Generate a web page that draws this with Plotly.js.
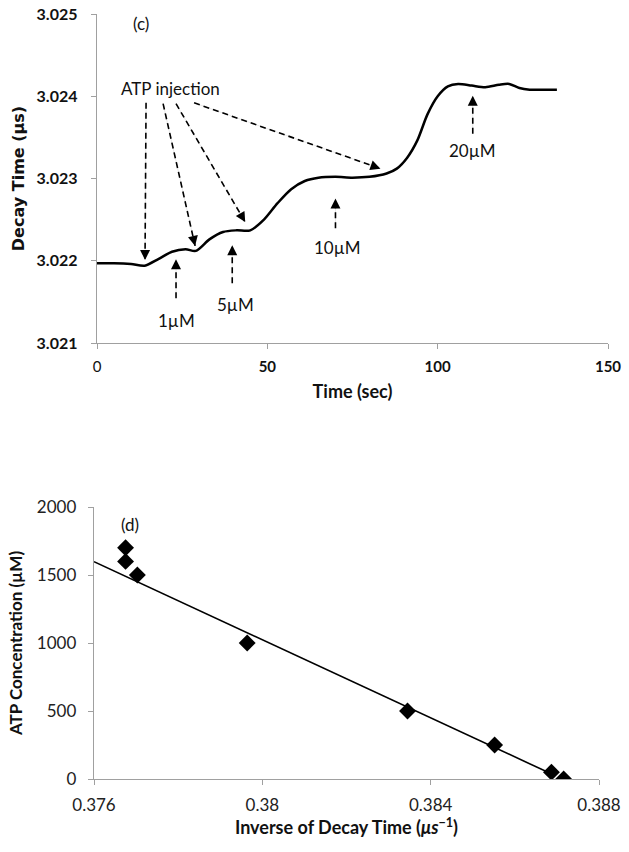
<!DOCTYPE html>
<html>
<head>
<meta charset="utf-8">
<script src="https://cdn.plot.ly/plotly-3.0.1.min.js"></script>
<style>html,body{margin:0;padding:0;background:#fff;}#chart{width:629px;height:852px;}</style>
</head>
<body>
<div id="chart"></div>
<script>
// ---- Panel (c): decay time vs time ----
var timeSec = [0, 5, 10, 14, 18, 22, 26, 29, 33, 37, 41, 45, 49, 53, 57, 61, 65, 70, 75, 80, 85, 88, 91, 94, 97, 100, 103, 106, 110, 114, 118, 121, 124, 127, 131, 135];
var decayTime = [3.02197, 3.02197, 3.02196, 3.02194, 3.02202, 3.02211, 3.02214, 3.02212, 3.02226, 3.02235, 3.02237, 3.02237, 3.02250, 3.02270, 3.02287, 3.02297, 3.02301, 3.02302, 3.02301, 3.02302, 3.02306, 3.02312, 3.02325, 3.02346, 3.02378, 3.02400, 3.02412, 3.02415, 3.02413, 3.02411, 3.02414, 3.02415, 3.02410, 3.02408, 3.02408, 3.02408];
var cYTicks = [3.021, 3.022, 3.023, 3.024, 3.025];
var cXTicks = [0, 50, 100, 150];
var cXTickText = ['0', '<b>50</b>', '<b>100</b>', '<b>150</b>'];

// ---- Panel (d): ATP concentration vs inverse decay time ----
var inverseDecay = [0.37675, 0.37675, 0.37703, 0.37964, 0.38345, 0.38552, 0.38687, 0.38716];
var atpConc = [1700, 1600, 1500, 1000, 500, 250, 50, 0];
var trendX = [0.376, 0.38693];
var trendY = [1598, 29];
var dXTicks = [0.376, 0.38, 0.384, 0.388];
var dXTickText = ['0.376', '0.38', '0.384', '0.388'];
var dYTicks = [0, 500, 1000, 1500, 2000];

// ---- Panel (c) annotations ----
var stepLabels = ['1µM', '5µM', '10µM', '20µM'];
var stepTimes = [23.2, 39.7, 70, 110.3];
var labelX = [23.2, 40.6, 70.5, 110.3];
var labelY = [3.021279, 3.021473, 3.022164, 3.02334];
// injection arrows (tail -> head)
var injTailX = [14.4, 19.4, 23.2, 28.5];
var injTailY = [3.02392, 3.02391, 3.02391, 3.02392];
var injHeadX = [14.1, 28.8, 43.5, 83.2];
var injHeadY = [3.02201, 3.02218, 3.02247, 3.02312];
// step arrows (pointing up at fixed time)
var stepTailY = [3.021545, 3.021727, 3.022394, 3.023545];
var stepHeadY = [3.022018, 3.022188, 3.022758, 3.024006];

var axisGray = '#a0a0a0';
var fontFam = 'Lato, "Open Sans", sans-serif';
var boldFam = '"DejaVu Sans", sans-serif';

var traces = [
  {x: timeSec, y: decayTime, type: 'scatter', mode: 'lines', line: {color: '#000', width: 2.5, shape: 'spline', smoothing: 0.8}, xaxis: 'x', yaxis: 'y', hoverinfo: 'skip'},
  {x: trendX, y: trendY, type: 'scatter', mode: 'lines', line: {color: '#000', width: 1.6}, xaxis: 'x2', yaxis: 'y2', hoverinfo: 'skip'},
  {x: inverseDecay, y: atpConc, type: 'scatter', mode: 'markers', marker: {symbol: 'diamond', size: 13, color: '#000'}, xaxis: 'x2', yaxis: 'y2'}
];

var annotations = [];
function addArrow(x0, y0, x1, y1) {
  traces.push({
    x: [x0, x1], y: [y0, y1], type: 'scatter', mode: 'lines',
    line: {color: '#000', width: 1.6, dash: '6px,4px'},
    xaxis: 'x', yaxis: 'y', hoverinfo: 'skip'
  });
  // solid arrow head only (shaft is hair-thin and hidden under the dashed line)
  annotations.push({xref: 'x', yref: 'y', axref: 'x', ayref: 'y', x: x1, y: y1, ax: x0, ay: y0,
    text: '', showarrow: true, arrowhead: 2, arrowsize: 20, arrowwidth: 0.1, arrowcolor: '#000'});
}
for (var i = 0; i < injTailX.length; i++) {
  addArrow(injTailX[i], injTailY[i], injHeadX[i], injHeadY[i]);
}
for (var j = 0; j < stepTimes.length; j++) {
  addArrow(stepTimes[j], stepTailY[j], stepTimes[j], stepHeadY[j]);
}

stepLabels.forEach(function(s, i) {
  annotations.push({xref: 'x', yref: 'y', x: labelX[i], y: labelY[i], text: s, showarrow: false, font: {family: fontFam, size: 17, color: '#111'}});
});
annotations.push({xref: 'x', yref: 'y', x: 21.5, y: 3.02409, text: 'ATP injection', showarrow: false, font: {family: fontFam, size: 17, color: '#111'}});
annotations.push({xref: 'x', yref: 'y', x: 12.8, y: 3.02488, text: '(c)', showarrow: false, font: {family: fontFam, size: 17, color: '#111'}});
annotations.push({xref: 'x2', yref: 'y2', x: 0.37685, y: 1870, text: '(d)', showarrow: false, font: {family: fontFam, size: 17, color: '#111'}});

var layout = {
  width: 629, height: 852,
  margin: {l: 0, r: 0, t: 0, b: 0},
  paper_bgcolor: '#fff', plot_bgcolor: '#fff',
  showlegend: false,
  font: {family: fontFam, color: '#111'},
  xaxis: {
    domain: [97/629, 608/629], anchor: 'y', range: [0, 150],
    tickvals: cXTicks, ticktext: cXTickText,
    showline: true, linecolor: axisGray, linewidth: 1.3, showgrid: false, zeroline: false,
    ticks: 'outside', ticklen: 5, tickcolor: axisGray, ticklabelstandoff: 5,
    tickfont: {family: fontFam, size: 15, color: '#111'},
    title: {text: '<b>Time (sec)</b>', font: {family: fontFam, size: 18, color: '#111'}, standoff: 11},
    automargin: false
  },
  yaxis: {
    domain: [(852-343)/852, (852-14)/852], anchor: 'x', range: [3.021, 3.025],
    tickvals: cYTicks, tickformat: '.3f',
    showline: true, linecolor: axisGray, linewidth: 1.3, showgrid: false, zeroline: false,
    ticks: 'outside', ticklen: 5, tickcolor: axisGray, ticklabelstandoff: 10,
    tickfont: {family: fontFam, size: 16, color: '#111', weight: 'bold'},
    title: {text: '<b>Decay Time (µs)</b>', font: {family: boldFam, size: 16, color: '#111'}, standoff: 8},
    automargin: false
  },
  xaxis2: {
    domain: [94/629, 599/629], anchor: 'y2', range: [0.376, 0.388],
    tickvals: dXTicks, ticktext: dXTickText,
    showline: true, linecolor: axisGray, linewidth: 1.3, showgrid: false, zeroline: false,
    ticks: 'outside', ticklen: 5, tickcolor: axisGray, ticklabelstandoff: 5,
    tickfont: {family: fontFam, size: 17, color: '#222'},
    title: {text: '<b>Inverse of Decay Time (<i>μs</i><sup>−1</sup>)</b>', font: {family: fontFam, size: 18, color: '#111'}, standoff: 1},
    automargin: false
  },
  yaxis2: {
    domain: [(852-779)/852, (852-507)/852], anchor: 'x2', range: [0, 2000],
    tickvals: dYTicks,
    showline: true, linecolor: axisGray, linewidth: 1.3, showgrid: false, zeroline: false,
    ticks: 'outside', ticklen: 5, tickcolor: axisGray, ticklabelstandoff: 8,
    tickfont: {family: fontFam, size: 17, color: '#222'},
    title: {text: '<b>ATP Concentration (µM)</b>', font: {family: fontFam, size: 17, color: '#111'}, standoff: 10},
    automargin: false
  },
  annotations: annotations
};

Plotly.newPlot('chart', traces, layout, {staticPlot: true, displayModeBar: false});
</script>
</body>
</html>
